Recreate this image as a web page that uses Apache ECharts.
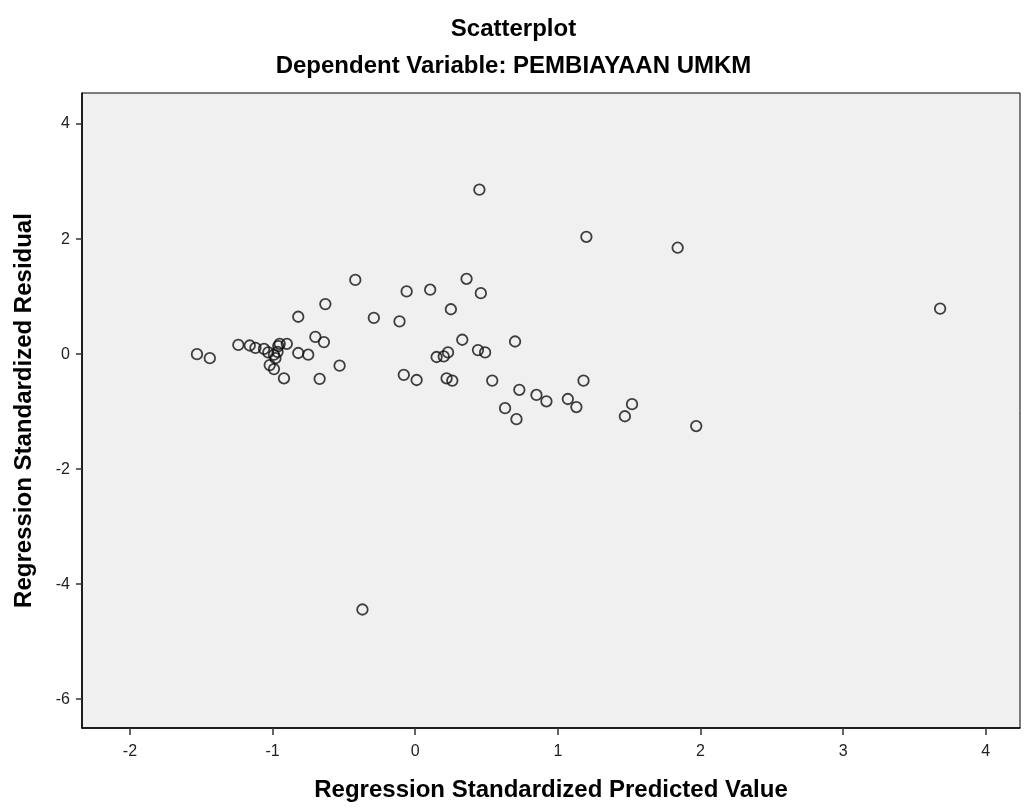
<!DOCTYPE html>
<html>
<head>
<meta charset="utf-8">
<script src="https://cdn.jsdelivr.net/npm/echarts@6/dist/echarts.min.js"></script>
<style>
  html, body { margin: 0; padding: 0; background: #fff; }
  #chart { width: 1027px; height: 812px; }
</style>
</head>
<body>
<div id="chart"></div>
<script>
// Regression standardized predicted value (x) and residual (y)
const predicted = [
  -1.53, -1.44, -1.24, -1.16, -1.12, -1.06, -1.03, -0.96, -0.95, -0.90,
  -0.99, -0.98, -0.965, -1.02, -0.99, -0.92, -0.82, -0.75, -0.70, -0.64,
  -0.67, -0.53, -0.82, -0.63, -0.42, -0.29, -0.11, -0.06, 0.105, 0.36,
  0.46, 0.25, 0.33, 0.70, 0.15, 0.20, 0.23, 0.44, 0.49, -0.08,
  0.01, 0.22, 0.26, 0.54, 0.73, 0.85, 0.92, 1.07, 1.13, 1.18,
  0.63, 0.71, 1.52, 1.47, 1.97, 0.45, 1.20, 1.84, 3.68, -0.37
];
const residual = [
  0.00, -0.07, 0.16, 0.15, 0.11, 0.09, 0.03, 0.14, 0.18, 0.18,
  -0.01, -0.07, 0.04, -0.19, -0.26, -0.42, 0.02, -0.01, 0.30, 0.21,
  -0.43, -0.20, 0.65, 0.87, 1.29, 0.63, 0.57, 1.09, 1.12, 1.31,
  1.06, 0.78, 0.25, 0.22, -0.05, -0.04, 0.03, 0.07, 0.03, -0.36,
  -0.45, -0.42, -0.46, -0.46, -0.62, -0.71, -0.82, -0.78, -0.92, -0.46,
  -0.94, -1.13, -0.87, -1.08, -1.25, 2.86, 2.04, 1.85, 0.79, -4.44
];
const xTicks = [-2, -1, 0, 1, 2, 3, 4];
const yTicks = [-6, -4, -2, 0, 2, 4];

const points = predicted.map((x, i) => [x, residual[i]]);

const chart = echarts.init(document.getElementById('chart'));
const font = '"Liberation Sans", Arial, sans-serif';

chart.setOption({
  animation: false,
  backgroundColor: '#ffffff',
  title: [
    {
      text: 'Scatterplot',
      left: 'center', top: 12,
      textStyle: { fontFamily: font, fontWeight: 'bold', fontSize: 24, color: '#000' }
    },
    {
      text: 'Dependent Variable: PEMBIAYAAN UMKM',
      left: 'center', top: 49,
      textStyle: { fontFamily: font, fontWeight: 'bold', fontSize: 24, color: '#000' }
    }
  ],
  grid: {
    left: 82, right: 7, top: 93, bottom: 84,
    show: true,
    backgroundColor: '#f0f0f0',
    borderColor: '#000',
    borderWidth: 1
  },
  xAxis: {
    type: 'value',
    min: -2.336, max: 4.24,
    name: 'Regression Standardized Predicted Value',
    nameLocation: 'middle',
    nameGap: 50,
    nameTextStyle: { fontFamily: font, fontWeight: 'bold', fontSize: 24, color: '#000' },
    axisLine: { show: true, onZero: false, lineStyle: { color: '#000', width: 1.5 } },
    axisTick: { show: true, length: 7, lineStyle: { color: '#333', width: 1.5 }, customValues: xTicks },
    axisLabel: { fontFamily: font, fontSize: 16, color: '#222', margin: 16, customValues: xTicks, showMinLabel: true, showMaxLabel: true },
    splitLine: { show: false }
  },
  yAxis: {
    type: 'value',
    min: -6.50, max: 4.54,
    name: 'Regression Standardized Residual',
    nameLocation: 'middle',
    nameGap: 46,
    nameTextStyle: { fontFamily: font, fontWeight: 'bold', fontSize: 24, color: '#000' },
    axisLine: { show: true, onZero: false, lineStyle: { color: '#000', width: 1.5 } },
    axisTick: { show: true, length: 6, lineStyle: { color: '#333', width: 1.5 }, customValues: yTicks },
    axisLabel: { fontFamily: font, fontSize: 16, color: '#222', margin: 12, customValues: yTicks },
    splitLine: { show: false }
  },
  series: [
    {
      type: 'scatter',
      data: points,
      symbol: 'circle',
      symbolSize: 10.5,
      itemStyle: { color: 'rgba(0,0,0,0)', borderColor: '#111', borderWidth: 1.8 }
    }
  ]
});
</script>
</body>
</html>
